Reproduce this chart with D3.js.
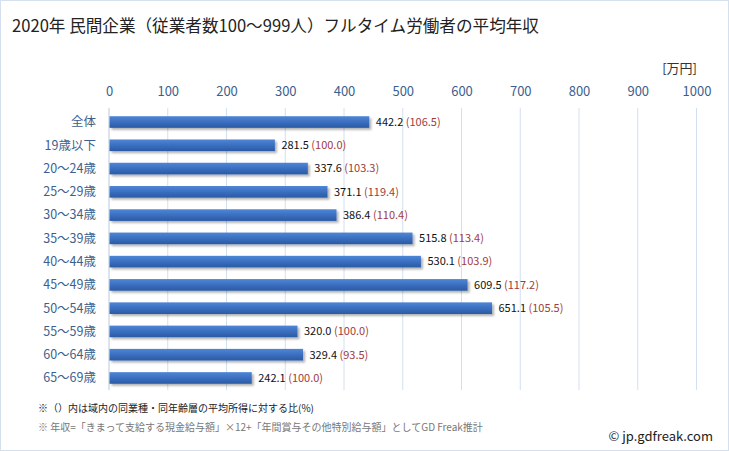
<!DOCTYPE html>
<html><head><meta charset="utf-8">
<script src="https://cdn.jsdelivr.net/npm/d3@7"></script>
<style>body{margin:0;background:#fff;font-family:"Noto Sans CJK JP","Noto Sans",sans-serif;}</style>
</head><body><svg id="c" width="729" height="451"></svg>
<script>
const categories = ["全体","19歳以下","20～24歳","25～29歳","30～34歳","35～39歳","40～44歳","45～49歳","50～54歳","55～59歳","60～64歳","65～69歳"];
const values = [442.2,281.5,337.6,371.1,386.4,515.8,530.1,609.5,651.1,320.0,329.4,242.1];
const ratios = ["106.5","100.0","103.3","119.4","110.4","113.4","103.9","117.2","105.5","100.0","93.5","100.0"];
const ticks = [0,100,200,300,400,500,600,700,800,900,1000];

const svg = d3.select("#c");
const font = '"Noto Sans CJK JP","Noto Sans",sans-serif';
svg.append("rect").attr("x",0.5).attr("y",0.5).attr("width",728).attr("height",450).attr("fill","#fff").attr("stroke","#d4e0ee");

const defs = svg.append("defs");
const g1 = defs.append("linearGradient").attr("id","bg").attr("x1",0).attr("y1",0).attr("x2",0).attr("y2",1);
g1.append("stop").attr("offset","0%").attr("stop-color","#4f86d6");
g1.append("stop").attr("offset","50%").attr("stop-color","#3b6fc0");
g1.append("stop").attr("offset","100%").attr("stop-color","#2a5aa4");
const f = defs.append("filter").attr("id","sh").attr("x","-5%").attr("y","-30%").attr("width","115%").attr("height","190%");
f.append("feDropShadow").attr("dx",2).attr("dy",2).attr("stdDeviation",1.2).attr("flood-color","#000").attr("flood-opacity",0.3);

const x = d3.scaleLinear().domain([0,1000]).range([109,696.5]);
const y = d3.scaleBand().domain(categories).range([110.4,389.6]).paddingInner(0.5).paddingOuter(0.25);

svg.append("text").attr("x",12).attr("y",32).attr("font-size",16.6).attr("fill","#222").attr("font-family",font)
  .text("2020年 民間企業（従業者数100～999人）フルタイム労働者の平均年収");
svg.append("text").attr("x",697).attr("y",73).attr("text-anchor","end").attr("font-size",13).attr("fill","#333").attr("font-family",font).text("[万円]");

// grid
svg.append("g").selectAll("line").data(ticks).join("line")
  .attr("x1",d=>x(d)).attr("x2",d=>x(d)).attr("y1",108).attr("y2",390)
  .attr("stroke",d=>d===0?"#b8c8dc":"#d2e0f0").attr("stroke-width",1);

const ax = svg.append("g").attr("transform","translate(0,96)").call(d3.axisTop(x).tickValues(ticks).tickFormat(d3.format("d")).tickSize(0).tickPadding(0));
ax.select(".domain").remove();
ax.selectAll("text").attr("font-size",13).attr("fill","#3d5f8e").attr("font-family",font);

// category labels
svg.append("g").selectAll("text").data(categories).join("text")
  .attr("x",96).attr("y",d=>y(d)+y.bandwidth()/2).attr("dy","0.35em").attr("text-anchor","end")
  .attr("font-size",12.5).attr("fill","#3d5f8e").attr("font-family",font).text(d=>d);

svg.append("g").selectAll("rect").data(values).join("rect")
  .attr("x",x(0)+0.5).attr("y",(d,i)=>y(categories[i])).attr("height",y.bandwidth())
  .attr("width",d=>x(d)-x(0)).attr("fill","url(#bg)").attr("filter","url(#sh)");

const lab = svg.append("g").selectAll("text").data(values).join("text")
  .attr("x",d=>x(d)+7).attr("y",(d,i)=>y(categories[i])+y.bandwidth()/2).attr("dy","0.35em")
  .attr("font-size",11).attr("font-family",font);
lab.append("tspan").attr("fill","#111").text(d=>d.toFixed(1));
lab.append("tspan").attr("fill","#a23b3b").text((d,i)=>" ("+ratios[i]+")");

svg.append("text").attr("x",38).attr("y",412).attr("font-size",10).attr("fill","#222").attr("font-family",font)
  .text("※（）内は域内の同業種・同年齢層の平均所得に対する比(%)");
svg.append("text").attr("x",38).attr("y",431).attr("font-size",10).attr("fill","#777").attr("font-family",font)
  .text("※ 年収=「きまって支給する現金給与額」×12+「年間賞与その他特別給与額」としてGD Freak推計");
svg.append("text").attr("x",713).attr("y",441).attr("text-anchor","end").attr("font-size",13).attr("fill","#222").attr("font-family",font)
  .text("© jp.gdfreak.com");
</script></body></html>
